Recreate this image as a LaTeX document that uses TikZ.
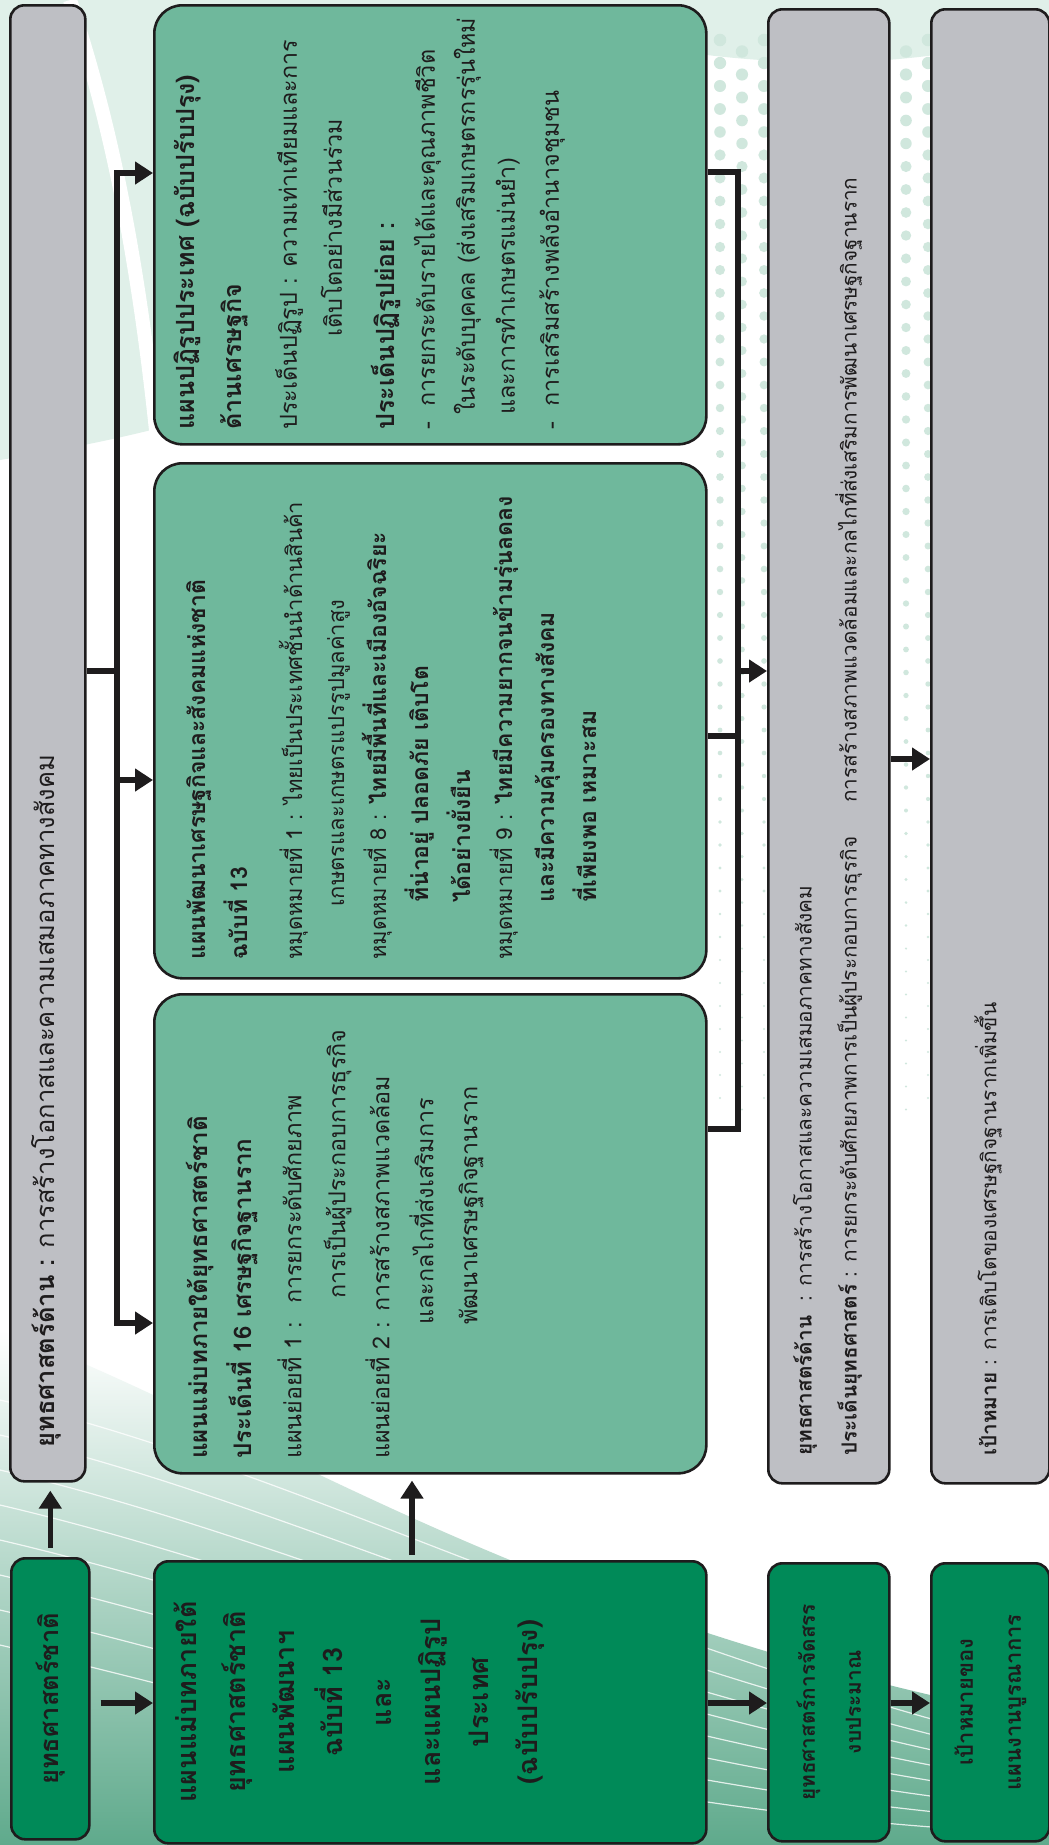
\documentclass[tikz,border=0pt]{standalone}
\usepackage{fontspec}
\newfontfamily\thai[Script=Thai]{Loma}
\usetikzlibrary{arrows.meta,calc}
\definecolor{dkgreen}{RGB}{0,138,88}
\definecolor{mdgreen}{RGB}{111,184,156}
\definecolor{boxgray}{RGB}{190,191,196}
\definecolor{ink}{RGB}{30,28,29}
\definecolor{palegreen}{RGB}{224,240,233}
\definecolor{dotgreen}{RGB}{208,231,221}
\definecolor{wavedark}{RGB}{95,170,140}
\newlength\mylen
\newcommand\fitsize[4]{\settowidth\mylen{#2\fontsize{20}{20}\selectfont #3}\pgfmathsetmacro#1{(#4/\mylen)*20}\global\let#1#1}
\newcommand\AB[1]{{\bfseries\fontsize{\fAb}{44}\selectfont #1}}
\newcommand\BB[1]{{\bfseries\fontsize{\fBb}{42}\selectfont #1}}
\newcommand\CB[1]{{\bfseries\fontsize{\fCb}{43}\selectfont #1}}
\tikzset{
  base/.style={draw=ink, line width=2.6pt, inner sep=0pt, anchor=north west},
  graybox/.style={base, fill=boxgray, rounded corners=14pt},
  dkbox/.style={base, fill=dkgreen, rounded corners=14pt},
  mdbox/.style={base, fill=mdgreen, rounded corners=28pt},
  txt/.style={rotate=90, inner sep=0pt, text=ink, align=left},
  ctxt/.style={rotate=90, inner sep=0pt, text=ink, align=center},
  wire/.style={draw=ink, line width=5.5pt, line join=miter},
  arr/.style={wire, -{Triangle[length=18pt,width=22pt]}},
  darr/.style={wire, {Triangle[length=18pt,width=22pt]}-{Triangle[length=18pt,width=22pt]}},
}
\begin{document}
\fitsize{\fAn}{\thai}{แผนย่อยที่ 2 : การสร้างสภาพแวดล้อม}{383}%
\fitsize{\fAb}{\thai\bfseries}{แผนแม่บทภายใต้ยุทธศาสตร์ชาติ}{343}%
\fitsize{\fBn}{\thai}{หมุดหมายที่ 1 : ไทยเป็นประเทศชั้นนำด้านสินค้า}{458}%
\fitsize{\fBb}{\thai\bfseries}{แผนพัฒนาเศรษฐกิจและสังคมแห่งชาติ}{380}%
\fitsize{\fCn}{\thai}{ประเด็นปฏิรูป : ความเท่าเทียมและการ}{390}%
\fitsize{\fCb}{\thai\bfseries}{แผนปฏิรูปประเทศ (ฉบับปรับปรุง)}{355}%
\fitsize{\fG}{\thai}{การสร้างสภาพแวดล้อมและกลไกที่ส่งเสริมการพัฒนาเศรษฐกิจฐานราก}{625}%
\fitsize{\fGone}{\thai}{\textbf{ยุทธศาสตร์ด้าน :} การสร้างโอกาสและความเสมอภาคทางสังคม}{693}%
\fitsize{\fM}{\thai\bfseries}{แผนแม่บทภายใต้}{201}%
\fitsize{\fN}{\thai\bfseries}{ยุทธศาสตร์ชาติ}{172}%
\fitsize{\fS}{\thai\bfseries}{ยุทธศาสตร์การจัดสรร}{197}%
\fitsize{\fT}{\thai\bfseries}{แผนงานบูรณาการ}{176}%
\begin{tikzpicture}[x=1pt,y=-1pt]
\useasboundingbox (0,0) rectangle (1049,1845);
\fill[white] (0,0) rectangle (1049,1845);
% ---- background decoration ----
\fill[palegreen] (0,0) -- (720,0) .. controls (600,40) and (500,130) .. (440,260) .. controls (390,360) and (250,420) .. (0,460) -- cycle;
\draw[white, line width=14pt] (70,0) .. controls (110,120) and (140,260) .. (160,470);
\fill[palegreen] (640,0) -- (1049,0) -- (1049,30) .. controls (920,70) and (780,70) .. (640,45) -- cycle;
\shade[top color=white, bottom color=wavedark] (0,1330) .. controls (250,1420) and (520,1620) .. (1049,1720) -- (1049,1845) -- (0,1845) -- cycle;
\foreach \k in {0,...,7} {
  \draw[white, line width=1.2pt, opacity=0.8] (0,1400+\k*35) .. controls (300,1470+\k*35) and (600,1640+\k*25) .. (1049,1750+\k*12);
}
\foreach \xx/\off in {720/0,742/11.5,764/0,906/11.5,928/0} {
  \foreach \r in {0,...,46} {
    \pgfmathsetmacro{\yy}{40+\r*23+\off}
    \pgfmathsetmacro{\rad}{max(1.2,6.5-\yy/180)}
    \fill[dotgreen] (\xx,\yy) circle[radius=\rad pt];
  }
}
% ---- boxes ----
\node[graybox, minimum width=75pt, minimum height=1476pt] (G1) at (9,4) {};
\node[dkbox, minimum width=78pt, minimum height=281pt] (N) at (10,1557) {};
\node[mdbox, minimum width=552pt, minimum height=439pt] (C) at (153,4) {};
\node[mdbox, minimum width=552pt, minimum height=515pt] (B) at (153,462) {};
\node[mdbox, minimum width=552pt, minimum height=479pt] (A) at (153,993) {};
\node[dkbox, minimum width=552pt, minimum height=282pt] (M) at (153,1560) {};
\node[graybox, minimum width=121pt, minimum height=1474pt] (G2) at (767,8) {};
\node[dkbox, minimum width=121pt, minimum height=278pt] (S) at (767,1562) {};
\node[graybox, minimum width=118pt, minimum height=1474pt] (G3) at (930,8) {};
\node[dkbox, minimum width=118pt, minimum height=278pt] (T) at (930,1562) {};
% ---- connector points ----
\coordinate (Ltop) at (117,173);
\coordinate (Lmid) at (117,671);
\coordinate (Lb) at (117,780);
\coordinate (Lbot) at (117,1323);
\coordinate (Rtop) at (738,172);
\coordinate (Rg) at (738,671);
\coordinate (Rb) at (738,736);
\coordinate (Rbot) at (738,1129);
\coordinate (Q) at (900,759);
\coordinate (Y) at (500,1703);
\coordinate (MA) at (412,1500);
% ---- connectors ----
\draw[wire] (G1.east |- Lmid) -- (Lmid);
\draw[darr] (A.west |- Lbot) -- (Lbot) -- (Ltop) -- (C.west |- Ltop);
\draw[arr] (Lb) -- (B.west |- Lb);
\draw[wire] (C.east |- Rtop) -- (Rtop) -- (Rbot) -- (A.east |- Rbot);
\draw[wire] (B.east |- Rb) -- (Rb);
\draw[arr] (Rg) -- (G2.west |- Rg);
\draw[arr] (G2.east |- Q) -- (G3.west |- Q);
\draw[arr, shorten <=9pt, shorten >=8pt] (N.north) -- (N.north |- G1.south);
\draw[arr, shorten <=5pt, shorten >=6pt] (M.north -| MA) -- (A.south -| MA);
\draw[arr, shorten <=10pt] (N.east |- Y) -- (M.west |- Y);
\draw[arr] (M.east |- Y) -- (S.west |- Y);
\draw[arr] (S.east |- Y) -- (T.west |- Y);
% ---- texts ----
\node[txt, anchor=west, font=\thai\fontsize{\fGone}{40}\selectfont] (g1t) at (46,1448) {\textbf{ยุทธศาสตร์ด้าน :} การสร้างโอกาสและความเสมอภาคทางสังคม};
\node[ctxt, font=\thai\bfseries\fontsize{\fN}{40}\selectfont] (nt) at (N.center) {ยุทธศาสตร์ชาติ};
\node[ctxt, anchor=north, font=\thai\bfseries\fontsize{\fM}{48.7}\selectfont] (mt) at ({192-0.667*\fM},1702) {แผนแม่บทภายใต้\\ยุทธศาสตร์ชาติ\\แผนพัฒนาฯ\\ฉบับที่ 13\\และ\\และแผนปฏิรูป\\ประเทศ\\(ฉบับปรับปรุง)};
\node[ctxt, font=\thai\bfseries\fontsize{\fS}{46}\selectfont] (st) at (S.center) {ยุทธศาสตร์การจัดสรร\\งบประมาณ};
\node[ctxt, font=\thai\bfseries\fontsize{\fT}{48}\selectfont] (tt) at (T.center) {เป้าหมายของ\\แผนงานบูรณาการ};
\node[txt, anchor=west, font=\thai\fontsize{\fG}{45}\selectfont] (g2t) at (827.5,1456) {\textbf{ยุทธศาสตร์ด้าน} \ : การสร้างโอกาสและความเสมอภาคทางสังคม\\\textbf{ประเด็นยุทธศาสตร์} : การยกระดับศักยภาพการเป็นผู้ประกอบการธุรกิจ\hspace{34pt}การสร้างสภาพแวดล้อมและกลไกที่ส่งเสริมการพัฒนาเศรษฐกิจฐานราก};
\node[txt, anchor=west, font=\thai\fontsize{\fG}{45}\selectfont] (g3t) at (988,1456) {\textbf{เป้าหมาย} : การเติบโตของเศรษฐกิจฐานรากเพิ่มขึ้น};
\node[txt, anchor=north west, font=\thai\fontsize{\fAn}{44}\selectfont] (at) at (186,1459) {\AB{แผนแม่บทภายใต้ยุทธศาสตร์ชาติ}\\
\AB{ประเด็นที่ 16 เศรษฐกิจฐานราก}\\[6pt]
แผนย่อยที่ 1 : \ การยกระดับศักยภาพ\\
\hspace*{160pt}การเป็นผู้ประกอบการธุรกิจ\\
แผนย่อยที่ 2 : การสร้างสภาพแวดล้อม\\
\hspace*{134pt}และกลไกที่ส่งเสริมการ\\
\hspace*{134pt}พัฒนาเศรษฐกิจฐานราก};
\node[txt, anchor=north west, font=\thai\fontsize{\fBn}{42}\selectfont] (bt) at (186,960) {\BB{แผนพัฒนาเศรษฐกิจและสังคมแห่งชาติ}\\
\BB{ฉบับที่ 13}\\[13pt]
หมุดหมายที่ 1 : ไทยเป็นประเทศชั้นนำด้านสินค้า\\
\hspace*{53pt}เกษตรและเกษตรแปรรูปมูลค่าสูง\\
หมุดหมายที่ 8 : \BB{ไทยมีพื้นที่และเมืองอัจฉริยะ}\\
\hspace*{57pt}\BB{ที่น่าอยู่ ปลอดภัย เติบโต}\\
\hspace*{57pt}\BB{ได้อย่างยั่งยืน}\\
หมุดหมายที่ 9 : \BB{ไทยมีความยากจนข้ามรุ่นลดลง}\\
\hspace*{57pt}\BB{และมีความคุ้มครองทางสังคม}\\
\hspace*{57pt}\BB{ที่เพียงพอ เหมาะสม}};
\node[txt, anchor=north west, font=\thai\fontsize{\fCn}{43}\selectfont] (ct) at (174,430) {\CB{แผนปฏิรูปประเทศ (ฉบับปรับปรุง)}\\[4pt]
\CB{ด้านเศรษฐกิจ}\\[12pt]
ประเด็นปฏิรูป : ความเท่าเทียมและการ\\[2pt]
\hspace*{93pt}เติบโตอย่างมีส่วนร่วม\\[10pt]
\CB{ประเด็นปฏิรูปย่อย :}\\[-3pt]
- \ การยกระดับรายได้และคุณภาพชีวิต\\[-3pt]
\hspace*{15pt}ในระดับบุคคล (ส่งเสริมเกษตรกรรุ่นใหม่\\[-3pt]
\hspace*{15pt}และการทำเกษตรแม่นยำ)\\[1pt]
- \ การเสริมสร้างพลังอำนาจชุมชน};
\end{tikzpicture}
\end{document}
